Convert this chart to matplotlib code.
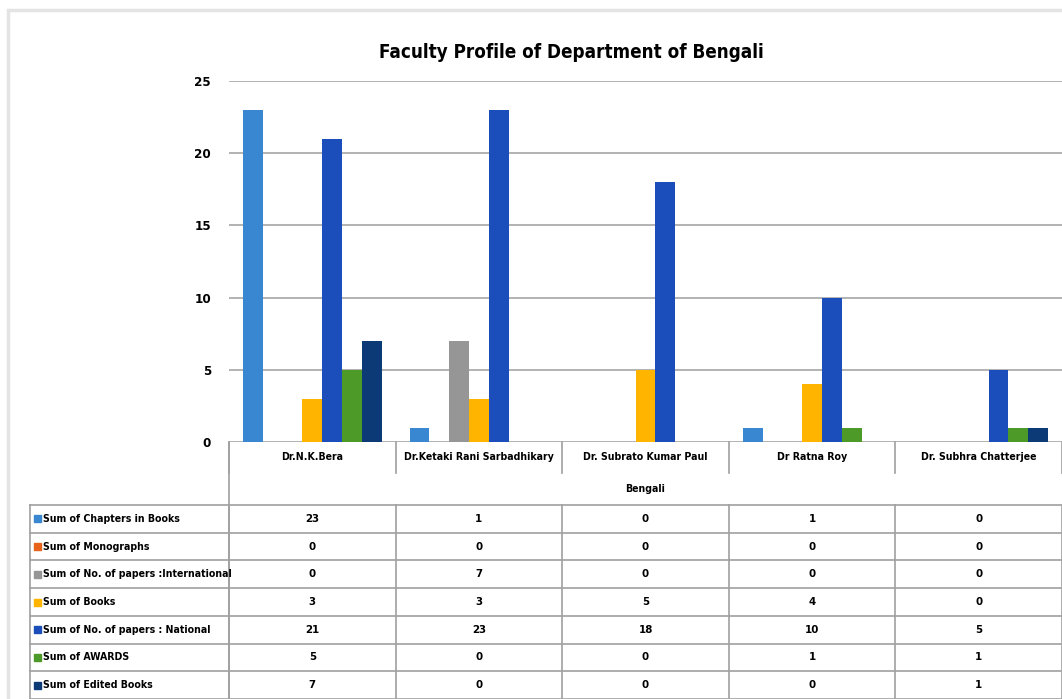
import numpy as np
import matplotlib
matplotlib.use("Agg")
import matplotlib.pyplot as plt
from matplotlib.transforms import blended_transform_factory
from matplotlib.patches import Rectangle
from matplotlib.lines import Line2D

# DejaVu Sans Condensed stands in for the narrow Office font
plt.rcParams["font.family"] = ["DejaVu Sans"]
plt.rcParams["font.stretch"] = "condensed"

# ---- data ----
faculty = ["Dr.N.K.Bera", "Dr.Ketaki Rani Sarbadhikary", "Dr. Subrato Kumar Paul",
           "Dr Ratna Roy", "Dr. Subhra Chatterjee"]
department = "Bengali"
series_names = ["Sum of Chapters in Books", "Sum of Monographs",
                "Sum of No. of papers :International", "Sum of Books",
                "Sum of No. of papers : National", "Sum of AWARDS",
                "Sum of Edited Books"]
chapters = [23, 1, 0, 1, 0]
monographs = [0, 0, 0, 0, 0]
international = [0, 7, 0, 0, 0]
books = [3, 3, 5, 4, 0]
national = [21, 23, 18, 10, 5]
awards = [5, 0, 0, 1, 1]
edited = [7, 0, 0, 0, 1]
yticks = [0, 5, 10, 15, 20, 25]

series_values = [chapters, monographs, international, books, national, awards, edited]
colors = ["#3A87D1", "#E8641B", "#969696", "#FFB400", "#1C4EBB", "#4E9A28", "#0B3A76"]

W, H = 1062, 699
fig = plt.figure(figsize=(W / 100, H / 100), dpi=100)

def fx(px):
    return px / W

def fy(py):
    return 1 - py / H

# outer chart frame
fig.patches.append(Rectangle((fx(8), fy(H + 5)), fx(W + 10), fy(10) - fy(H + 5),
                             transform=fig.transFigure, fill=False,
                             edgecolor="#E4E4E4", lw=2.5))

# plot area
ax_left, ax_right, ax_top, ax_bot = 229, 1062, 81, 442
ax = fig.add_axes([fx(ax_left), fy(ax_bot), fx(ax_right - ax_left), fy(ax_top) - fy(ax_bot)])
n = len(faculty)
x = np.arange(n)
bw = 0.119
for j, (vals, c) in enumerate(zip(series_values, colors)):
    ax.bar(x + (j - 3) * bw, vals, width=bw, color=c, zorder=3)

ax.set_xlim(-0.5, n - 0.5)
ax.set_ylim(0, 25)
ax.set_yticks(yticks)
ax.set_yticklabels([str(v) for v in yticks], fontsize=9.5, fontweight="bold")
ax.tick_params(axis="y", length=0, pad=13)
ax.set_xticks([])
for s in ax.spines.values():
    s.set_visible(False)
ax.grid(axis="y", color="#A6A6A6", lw=1.2, zorder=0)

fig.text(0.5 + fx(40), fy(52), "Faculty Profile of Department of Bengali",
         ha="center", va="center", fontsize=13.5, fontweight="bold")

# ---- data table under the chart ----
tr = blended_transform_factory(ax.transData, fig.transFigure)
lc = "#A0A0A0"
hdr_top, hdr_bot, dep_bot = 442, 473, 505
row_h = (H - dep_bot) / len(series_names)
tab_left = 30
fs = 7.6

def hline(x0, x1, py, trans=fig.transFigure):
    fig.add_artist(Line2D([x0, x1], [fy(py), fy(py)], transform=trans, color=lc, lw=1.2))

def vline(xv, py0, py1, trans=fig.transFigure):
    fig.add_artist(Line2D([xv, xv], [fy(py0), fy(py1)], transform=trans, color=lc, lw=1.2))

# left border of category area
vline(fx(ax_left), hdr_top, H + 5)
# category separators in header row
for b in np.arange(n + 1) - 0.5:
    vline(b, hdr_top, hdr_bot, tr)
for i, name in enumerate(faculty):
    fig.text(x[i], fy((hdr_top + hdr_bot) / 2), name, transform=tr,
             ha="center", va="center", fontsize=fs, fontweight="bold")
fig.text(2, fy((hdr_bot + dep_bot) / 2), department, transform=tr,
         ha="center", va="center", fontsize=fs, fontweight="bold")

# data rows
hline(fx(tab_left), fx(W + 5), dep_bot)
vline(fx(tab_left), dep_bot, H + 5)
for b in np.arange(n + 1) - 0.5:
    vline(b, dep_bot, H + 5, tr)
for r, (name, vals, c) in enumerate(zip(series_names, series_values, colors)):
    top = dep_bot + r * row_h
    mid = top + row_h / 2
    hline(fx(tab_left), fx(W + 5), top + row_h)
    fig.patches.append(Rectangle((fx(34), fy(mid + 3.5)), fx(7), fy(mid - 3.5) - fy(mid + 3.5),
                                 transform=fig.transFigure, color=c))
    fig.text(fx(43), fy(mid), name, ha="left", va="center", fontsize=fs, fontweight="bold")
    for i, v in enumerate(vals):
        fig.text(x[i], fy(mid), str(v), transform=tr, ha="center", va="center",
                 fontsize=fs + 0.6, fontweight="bold")

fig.savefig("out.png", dpi=100)
